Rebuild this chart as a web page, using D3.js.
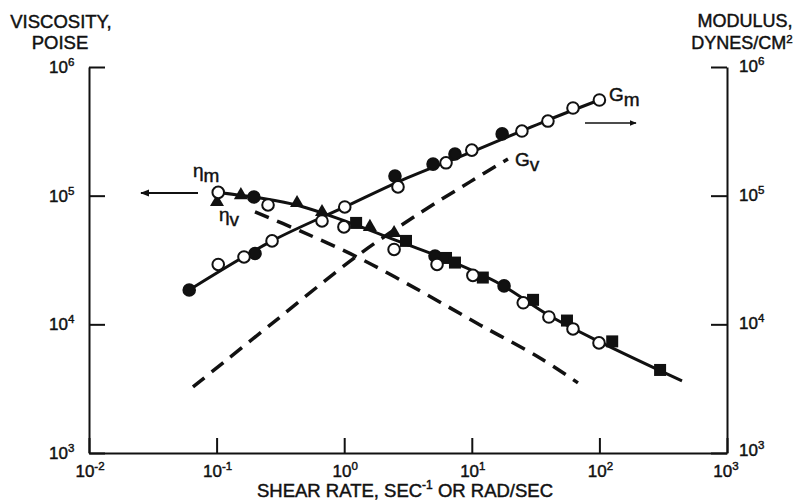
<!DOCTYPE html>
<html>
<head>
<meta charset="utf-8">
<script src="https://cdn.jsdelivr.net/npm/d3@7"></script>
<style>
  body { margin: 0; background: #fff; }
  svg text { font-family: "Liberation Sans", Arial, sans-serif; fill: #111; stroke: #111; stroke-width: 0.45px; }
</style>
</head>
<body>
<div class="container"></div>
<script>
//Width and height
var w = 799;
var h = 500;

// axis exponents (tick labels)
var xExps = [-2, -1, 0, 1, 2, 3];
var yExps = [3, 4, 5, 6];

// G_m : storage modulus points [rate, dynes/cm2]
var gmOpen = [[0.103, 29200], [0.164, 33400], [0.272, 44500], [0.67, 63600], [1.01, 81700],
              [2.64, 117000], [6.28, 180000], [10.0, 226000], [24.7, 318000], [39.5, 380000],
              [62.1, 480000], [100, 554000]];
var gmFilled = [[0.061, 18500], [0.200, 35500], [2.50, 142000], [4.97, 176000], [7.38, 211000], [17.3, 302000]];
var gmCurve = [[0.061, 18500], [0.272, 44500], [1.01, 81700], [2.74, 130000], [10.0, 219000], [39.5, 387000], [100, 554000]];

// eta_m : viscosity points [rate, poise]
var etaOpen = [[0.103, 106000], [0.253, 84700], [0.995, 57200], [2.46, 38200], [5.34, 29200],
               [10.2, 24000], [25.3, 14700], [40.2, 11400], [62.1, 9210], [99.3, 7170]];
var etaTri = [[0.1007, 89300], [0.155, 101000], [0.427, 87700], [0.67, 74700], [1.59, 57200], [2.46, 51300]];
var etaDot = [[0.196, 97700], [5.15, 34000], [17.9, 19900]];
var etaSquare = [[1.24, 61400], [3.05, 44500], [6.28, 32800], [7.38, 30200], [12.2, 23100], [30.2, 15500],
                 [55.7, 10700], [126, 7370], [299, 4420]];
var etaCurve = [[0.103, 106000], [0.219, 95900], [0.451, 83200], [1.01, 63600], [2.74, 43700], [6.75, 31100],
                [16.6, 20600], [41.0, 11600], [100.7, 7300], [444, 3630]];

// dashed curves
var etaVCurve = [[0.200, 74700], [0.451, 53200], [1.26, 33400], [3.93, 18200], [11.6, 9890], [34.2, 5480], [67.9, 3510]];
var gvCurve = [[0.0653, 3260], [0.287, 10600], [1.26, 34000], [3.93, 73400], [9.68, 128000], [19.2, 193000]];

var x = d3.scaleLog().domain([1e-2, 1e3]).range([89, 727]);
var y = d3.scaleLog().domain([1e3, 1e6]).range([453, 67]);

var svg = d3.select(".container")
    .append("svg")
    .attr("width", w)
    .attr("height", h);

// axes
svg.append("g")
    .attr("transform", "translate(0,453)")
    .call(d3.axisBottom(x).tickValues(xExps.map(function(e){ return Math.pow(10, e); }))
        .tickSizeInner(-15).tickSizeOuter(0).tickFormat(""));

svg.append("g")
    .attr("transform", "translate(89,0)")
    .call(d3.axisLeft(y).tickValues(yExps.map(function(e){ return Math.pow(10, e); }))
        .tickSizeInner(-16).tickSizeOuter(0).tickFormat(""));

svg.append("g")
    .attr("transform", "translate(727,0)")
    .call(d3.axisRight(y).tickValues(yExps.map(function(e){ return Math.pow(10, e); }))
        .tickSizeInner(-16).tickSizeOuter(0).tickFormat(""));

svg.selectAll(".domain, .tick line")
    .attr("stroke", "#111")
    .attr("stroke-width", 2);

function powLabel(sel, e) {
    sel.append("tspan").text("10");
    sel.append("tspan")
        .attr("dy", -7)
        .attr("font-size", "11.5px")
        .text(e < 0 ? "-" + Math.abs(e) : e);
}

// x tick labels
xExps.forEach(function(e) {
    var t = svg.append("text")
        .attr("x", x(Math.pow(10, e)) + (e == 3 ? -1 : 1))
        .attr("y", 477)
        .attr("text-anchor", "middle")
        .attr("font-size", "17px");
    powLabel(t, e);
});

// y tick labels both sides
yExps.forEach(function(e) {
    var t1 = svg.append("text")
        .attr("x", 49)
        .attr("y", y(Math.pow(10, e)) + 6)
        .attr("font-size", "17px");
    powLabel(t1, e);
    var t2 = svg.append("text")
        .attr("x", 739)
        .attr("y", y(Math.pow(10, e)) + (e == 3 ? 3 : 5))
        .attr("font-size", "17px");
    powLabel(t2, e);
});

// titles
svg.append("text").attr("x", 61).attr("y", 28).attr("text-anchor", "middle").attr("font-size", "18.5px").text("VISCOSITY,");
svg.append("text").attr("x", 60).attr("y", 49).attr("text-anchor", "middle").attr("font-size", "18.5px").text("POISE");
svg.append("text").attr("x", 745).attr("y", 27).attr("text-anchor", "middle").attr("font-size", "18px").text("MODULUS,");
var dy = svg.append("text").attr("x", 742).attr("y", 49).attr("text-anchor", "middle").attr("font-size", "18px");
dy.append("tspan").text("DYNES/CM");
dy.append("tspan").attr("dy", -6).attr("font-size", "11.5px").text("2");

var xt = svg.append("text").attr("x", 405).attr("y", 497).attr("text-anchor", "middle").attr("font-size", "18.5px");
xt.append("tspan").text("SHEAR RATE, SEC");
xt.append("tspan").attr("dy", -8).attr("font-size", "12px").text("-1");
xt.append("tspan").attr("dy", 8).text(" OR RAD/SEC");

// curves
var line = d3.line()
    .x(function(d){ return x(d[0]); })
    .y(function(d){ return y(d[1]); })
    .curve(d3.curveCatmullRom);

svg.append("path").datum(gmCurve).attr("d", line)
    .attr("fill", "none").attr("stroke", "#111").attr("stroke-width", 3);
svg.append("path").datum(etaCurve).attr("d", line)
    .attr("fill", "none").attr("stroke", "#111").attr("stroke-width", 3);
svg.append("path").datum(etaVCurve).attr("d", line)
    .attr("fill", "none").attr("stroke", "#111").attr("stroke-width", 3.5).attr("stroke-dasharray", "15,9");
svg.append("path").datum(gvCurve).attr("d", line)
    .attr("fill", "none").attr("stroke", "#111").attr("stroke-width", 3.5).attr("stroke-dasharray", "15,9");

// markers
function circles(data, filled) {
    svg.append("g").selectAll("circle")
        .data(data)
        .enter()
        .append("circle")
        .attr("cx", function(d){ return x(d[0]); })
        .attr("cy", function(d){ return y(d[1]); })
        .attr("r", 5.8)
        .attr("fill", filled ? "#111" : "#fff")
        .attr("stroke", "#111")
        .attr("stroke-width", 2);
}
circles(gmFilled, true);
circles(etaDot, true);

svg.append("g").selectAll("path")
    .data(etaTri)
    .enter()
    .append("path")
    .attr("transform", function(d){ return "translate(" + x(d[0]) + "," + y(d[1]) + ")"; })
    .attr("d", d3.symbol().type(d3.symbolTriangle).size(85))
    .attr("fill", "#111");

svg.append("g").selectAll("rect")
    .data(etaSquare)
    .enter()
    .append("rect")
    .attr("x", function(d){ return x(d[0]) - 6; })
    .attr("y", function(d){ return y(d[1]) - 6; })
    .attr("width", 12)
    .attr("height", 12)
    .attr("fill", "#111");

circles(gmOpen, false);
circles(etaOpen, false);

// arrows
svg.append("defs").append("marker")
    .attr("id", "arr")
    .attr("viewBox", "0 0 10 10")
    .attr("refX", 9).attr("refY", 5)
    .attr("markerWidth", 4.5).attr("markerHeight", 4.5)
    .attr("orient", "auto")
    .append("path").attr("d", "M0,1 L10,5 L0,9 Z").attr("fill", "#111");

svg.append("line").attr("x1", 198).attr("y1", 193).attr("x2", 141).attr("y2", 193)
    .attr("stroke", "#111").attr("stroke-width", 2).attr("marker-end", "url(#arr)");
svg.append("line").attr("x1", 585).attr("y1", 123).attr("x2", 636).attr("y2", 123)
    .attr("stroke", "#111").attr("stroke-width", 1.6).attr("marker-end", "url(#arr)");

// curve labels
function sub(xp, yp, main, s) {
    var t = svg.append("text").attr("x", xp).attr("y", yp).attr("font-size", "19px");
    t.append("tspan").text(main);
    t.append("tspan").attr("dy", 5).attr("font-size", "19px").text(s);
}
sub(193, 177, "η", "m");
sub(219, 221, "η", "v");
sub(609, 101, "G", "m");
sub(515, 166, "G", "v");
</script>
</body>
</html>
